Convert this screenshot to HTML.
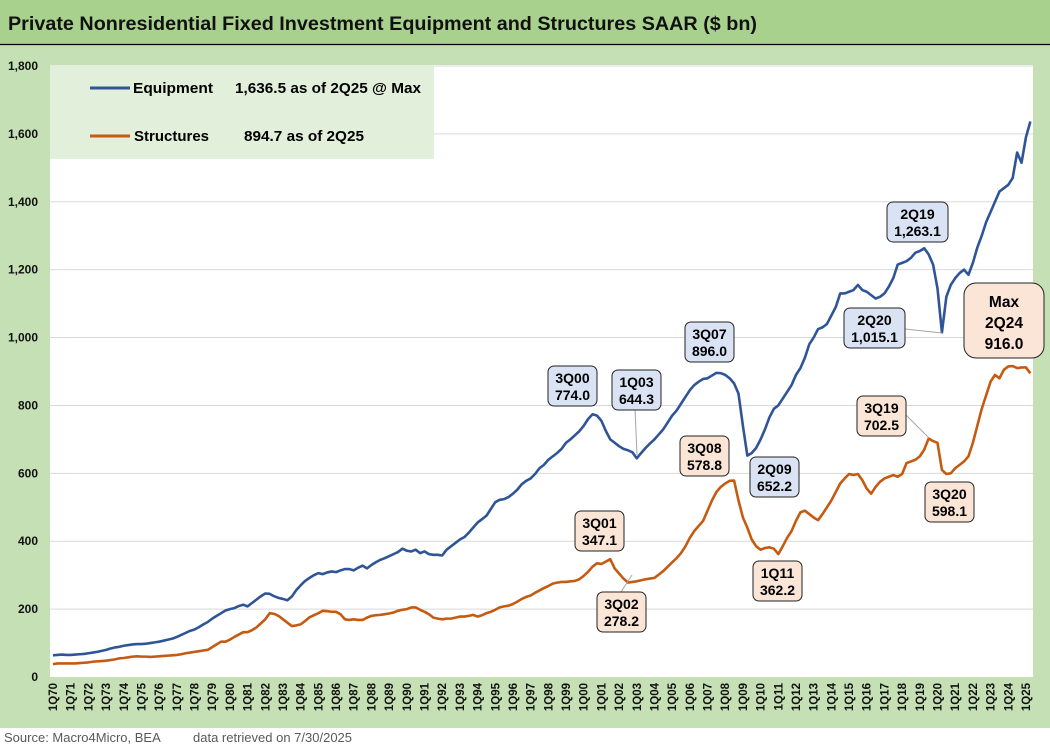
<!DOCTYPE html>
<html><head><meta charset="utf-8"><style>
html,body{margin:0;padding:0;background:#c5e0b4;}
svg{display:block;font-family:"Liberation Sans",Arial,sans-serif;}
</style></head><body>
<svg id="chart" width="1050" height="745" viewBox="0 0 1050 745" xmlns="http://www.w3.org/2000/svg">
<rect x="0" y="0" width="1050" height="728" fill="#c5e0b4"/>
<rect x="0" y="728" width="1050" height="17" fill="#ffffff"/>
<rect x="0" y="0" width="1050" height="44" fill="#a9d18e"/>
<line x1="0" y1="44.5" x2="1050" y2="44.5" stroke="#000" stroke-width="1.2"/>
<text x="8" y="30" font-size="19" font-weight="bold" fill="#111" textLength="749" lengthAdjust="spacingAndGlyphs">Private Nonresidential Fixed Investment Equipment and Structures SAAR ($ bn)</text>
<rect x="50" y="65" width="983" height="612" fill="#fff"/>
<g id="grid"></g>
<g id="yaxis"></g>
<g id="xaxis"></g>
<g id="series"></g>
<g id="legend">
<rect x="50" y="65" width="384" height="94" fill="#e2efda"/>
<line x1="90" y1="88" x2="130" y2="88" stroke="#2f5597" stroke-width="3"/>
<text x="133" y="93" font-size="15" font-weight="bold" textLength="80" lengthAdjust="spacingAndGlyphs">Equipment</text>
<text x="235" y="93" font-size="15" font-weight="bold" textLength="186" lengthAdjust="spacingAndGlyphs">1,636.5 as of 2Q25 @ Max</text>
<line x1="90" y1="136" x2="130" y2="136" stroke="#c55a11" stroke-width="3"/>
<text x="134" y="141" font-size="15" font-weight="bold" textLength="75" lengthAdjust="spacingAndGlyphs">Structures</text>
<text x="244" y="141" font-size="15" font-weight="bold" textLength="120" lengthAdjust="spacingAndGlyphs">894.7 as of 2Q25</text>
</g>
<g id="annot"></g>
<text x="4" y="742" font-size="13" fill="#595959">Source: Macro4Micro, BEA</text>
<text x="193" y="742" font-size="13" fill="#595959">data retrieved on 7/30/2025</text>
</svg>
<script>
const years = [];
for (let y = 1970; y <= 2025; y++) years.push(y);
const yTicks = [0,200,400,600,800,1000,1200,1400,1600,1800];
const yTickLabels = ["0","200","400","600","800","1,000","1,200","1,400","1,600","1,800"];
const equipment = [
64,65,66,65, 65,66,67,68, 70,72,74,77, 80,84,87,89, 92,94,96,97, 97,98,100,102,
104,107,110,113, 118,124,130,136, 140,147,155,162, 172,180,188,196, 200,203,209,213,
208,218,228,238, 246,245,238,233, 230,226,237,256, 270,283,292,300, 306,303,308,311,
309,314,318,318, 314,322,328,320, 330,338,345,350, 356,362,368,378, 372,370,375,365,
370,362,360,360, 358,375,385,395, 405,412,425,440, 455,465,475,495, 515,522,524,530,
540,552,568,578, 585,598,615,625, 640,650,660,672, 690,700,712,724, 740,760,774,770,
755,725,700,690, 680,672,668,662, 644.3,660,675,688, 700,715,730,750, 770,785,805,825,
845,860,870,878, 880,888,896,895, 890,880,865,835, 740,652.2,660,675, 700,730,765,790,
800,820,840,860, 890,910,940,980, 1000,1025,1030,1040, 1065,1090,1130,1130, 1135,1140,1155,1140,
1135,1125,1115,1120, 1130,1150,1175,1215, 1220,1225,1235,1250, 1255,1263.1,1245,1215,
1145,1015.1,1120,1155, 1175,1190,1200,1185, 1220,1265,1300,1340, 1370,1400,1430,1440,
1450,1470,1545,1515, 1590,1636.5];
const structures = [
38,40,40,40, 40,40,41,42, 43,45,46,47, 48,50,52,55, 56,58,60,61, 60,60,59,60,
61,62,63,64, 65,67,70,72, 74,76,78,80, 88,96,104,104, 110,118,125,132,
132,138,146,158, 170,188,186,180, 170,160,150,152, 155,165,176,182, 188,195,194,192,
192,185,170,168, 170,168,168,175, 180,182,183,185, 187,190,195,198, 200,205,205,198,
192,185,175,172, 170,172,172,175, 178,178,180,183, 178,182,188,192, 198,205,208,210,
215,222,230,236, 240,248,255,262, 268,275,278,280, 280,282,283,288, 298,310,325,335,
333,340,347.1,320, 305,290,278.2,280, 282,285,288,290, 292,302,312,325, 338,350,365,385,
410,430,445,460, 490,520,545,560, 570,578,578.8,520, 470,440,405,385, 375,380,382,378,
362.2,385,410,430, 460,485,490,480, 470,462,480,500, 520,545,570,585, 598,595,598,580,
555,540,560,575, 585,590,595,590, 598,630,635,640, 650,670,702.5,695,
690,610,598.1,600, 615,625,635,650, 690,740,790,830, 870,890,880,905,
915,916.0,910,912, 912,894.7];

const NS = "http://www.w3.org/2000/svg";
const x0 = 53, perQ = 17.69/4;
const yBottom = 677, yTop = 66, yMax = 1800;
function xScale(i){ return x0 + i*perQ; }
function yScale(v){ return yBottom - v/yMax*(yBottom-yTop); }
function mk(tag, attrs, parent){ const e=document.createElementNS(NS,tag); for(const k in attrs) e.setAttribute(k,attrs[k]); parent.appendChild(e); return e; }

const grid=document.getElementById('grid'), ya=document.getElementById('yaxis'), xa=document.getElementById('xaxis'), ser=document.getElementById('series'), an=document.getElementById('annot');
yTicks.forEach((t,i)=>{
  const y=yScale(t);
  if(t>0){ const l=mk('line',{x1:50,x2:1033,y1:y,y2:y,stroke:'#d9d9d9','stroke-width':1},grid);
    
     }
  const tx=mk('text',{x:38,y:y+4,'font-size':12,'font-weight':'bold','text-anchor':'end',fill:'#111'},ya);
  tx.textContent=yTickLabels[i];
  
  
});
years.forEach((yr,i)=>{
  const x=xScale(i*4);
  const tx=mk('text',{x:0,y:0,'font-size':11.5,'font-weight':'bold',fill:'#111','text-anchor':'end',transform:`translate(${x+4},683) rotate(-90)`},xa);
  tx.textContent='1Q'+String(yr).slice(2);
  
  
});
function drawLine(vals,color,name){
  const d=vals.map((v,i)=>(i?'L':'M')+xScale(i).toFixed(2)+','+yScale(v).toFixed(2)).join(' ');
  const p=mk('path',{d:d,fill:'none',stroke:color,'stroke-width':2.6,'stroke-linejoin':'round'},ser);
  
  
}
drawLine(structures,'#c55a11','structures-line');
drawLine(equipment,'#2f5597','equipment-line');

const labels = [
 ["3Q00","774.0",548,366,'b',null],
 ["1Q03","644.3",612,370,'b',[635,408,637,455]],
 ["3Q07","896.0",685,322,'b',null],
 ["2Q09","652.2",750,457,'b',null],
 ["2Q19","1,263.1",887,202,'b',null],
 ["2Q20","1,015.1",844,308,'b',[905,329,942,333]],
 ["3Q08","578.8",680,436,'o',null],
 ["3Q01","347.1",575,511,'o',null],
 ["3Q02","278.2",597,592,'o',[621,592,632,575]],
 ["1Q11","362.2",753,561,'o',null],
 ["3Q19","702.5",857,396,'o',[906,415,928,437]],
 ["3Q20","598.1",925,482,'o',null]
];
labels.forEach(l=>{
  const [a,b,x,y,c,ln]=l;
  const w=(b.length>5)?61:49, h=40;
  if(ln){ const li=mk('line',{x1:ln[0],y1:ln[1],x2:ln[2],y2:ln[3],stroke:'#a6a6a6','stroke-width':1},an);
    
     }
  const g=mk('g',{},an);
  
  
  mk('rect',{x:x,y:y,width:w,height:h,rx:6,fill:c==='b'?'#dae3f3':'#fbe5d6',stroke:'#222','stroke-width':1},g);
  const t1=mk('text',{x:x+w/2,y:y+17,'font-size':14,'font-weight':'bold','text-anchor':'middle'},g); t1.textContent=a;
  const t2=mk('text',{x:x+w/2,y:y+34,'font-size':14,'font-weight':'bold','text-anchor':'middle'},g); t2.textContent=b;
});
const mg=mk('g',{},an);


mk('rect',{x:964,y:283,width:80,height:75,rx:12,fill:'#fbe5d6',stroke:'#222','stroke-width':1},mg);
["Max","2Q24","916.0"].forEach((s,i)=>{ const t=mk('text',{x:1004,y:307+i*21,'font-size':15.5,'font-weight':'bold','text-anchor':'middle'},mg); t.textContent=s; });
</script>
</body></html>
